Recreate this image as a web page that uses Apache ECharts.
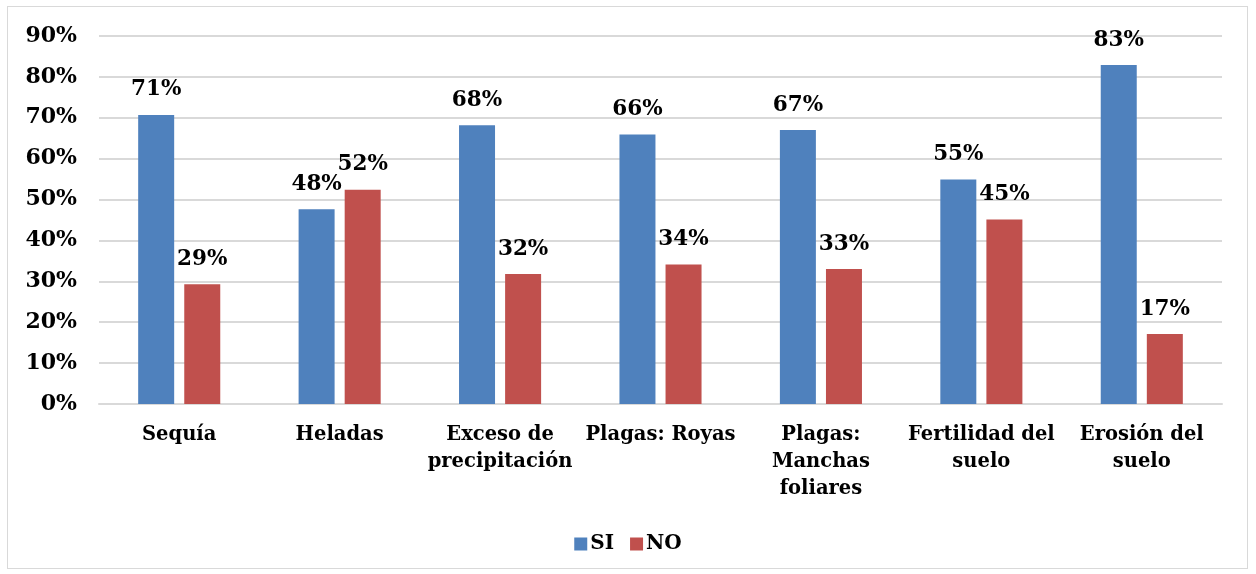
<!DOCTYPE html>
<html><head><meta charset="utf-8">
<script src="https://cdn.jsdelivr.net/npm/echarts@6/dist/echarts.min.js"></script>
<style>html,body{margin:0;padding:0;background:#fff}#c{width:1256px;height:574px}
#frame{position:absolute;left:7px;top:6px;width:1241px;height:563px;border:1px solid #d9d9d9;box-sizing:border-box;pointer-events:none}</style>
</head><body><div id="c"></div><div id="frame"></div>
<script>
const categories = ['Sequía','Heladas','Exceso de\nprecipitación','Plagas: Royas','Plagas:\nManchas\nfoliares','Fertilidad del\nsuelo','Erosión del\nsuelo'];
const siValues = [70.7, 47.6, 68.2, 65.9, 67.0, 54.9, 82.9];
const noValues = [29.3, 52.4, 31.8, 34.1, 33.0, 45.1, 17.1];
const seriesNames = ['SI','NO'];
const FONT = 'DejaVu Serif';
const chart = echarts.init(document.getElementById('c'));
const lbl = {show:true, position:'top', distance:14, formatter: p => Math.round(p.value)+'%', fontFamily:FONT, fontWeight:'bold', fontSize:21.5, color:'#000'};
chart.setOption({
  animation:false,
  grid:{left:99, right:34, top:36, bottom:170, containLabel:false},
  legend:{bottom:15, left:'center', itemWidth:13, itemHeight:13, itemGap:16, icon:'rect',
    textStyle:{fontFamily:FONT, fontWeight:'bold', fontSize:20, color:'#000', padding:[0,0,0,-2]}, data:seriesNames},
  xAxis:{type:'category', data:categories, axisTick:{show:false},
    axisLine:{lineStyle:{color:'#d9d9d9', width:2}},
    axisLabel:{fontFamily:FONT, fontWeight:'bold', fontSize:19.5, color:'#000', lineHeight:27, margin:17, interval:0}},
  yAxis:{type:'value', min:0, max:90, interval:10,
    axisLabel:{formatter:'{value}%', fontFamily:FONT, fontWeight:'bold', fontSize:22, color:'#000', margin:22},
    splitLine:{lineStyle:{color:'#d9d9d9', width:2}}, axisLine:{show:false}, axisTick:{show:false}},
  series:[
    {name:'SI', type:'bar', data:siValues, barWidth:36, barGap:'28%', itemStyle:{color:'#4f81bd'}, label:lbl},
    {name:'NO', type:'bar', data:noValues, barWidth:36, itemStyle:{color:'#c0504d'}, label:lbl}
  ]
});
</script></body></html>
